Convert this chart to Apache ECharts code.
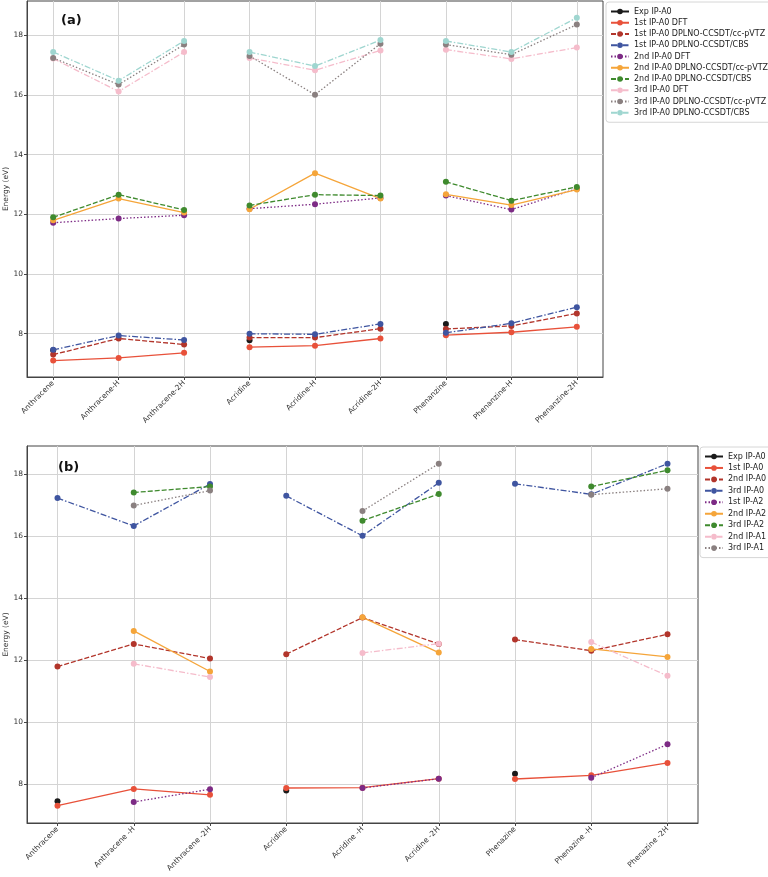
<!DOCTYPE html>
<html>
<head>
<meta charset="utf-8">
<script src="https://cdn.jsdelivr.net/npm/echarts@6/dist/echarts.min.js"></script>
<style>
  html, body { margin: 0; padding: 0; background: #fff; }
  #chart { width: 768px; height: 877px; }
</style>
</head>
<body>
<div id="chart"></div>
<script>
// categories
const categoriesA = ['Anthracene', 'Anthracene-H', 'Anthracene-2H', 'Acridine', 'Acridine-H', 'Acridine-2H', 'Phenanzine', 'Phenanzine-H', 'Phenanzine-2H'];
const categoriesB = ['Anthracene', 'Anthracene -H', 'Anthracene -2H', 'Acridine', 'Acridine -H', 'Acridine -2H', 'Phenazine', 'Phenazine -H', 'Phenazine -2H'];
const yTicks = [8, 10, 12, 14, 16, 18];

// panel (a) values
const aExp = [7.45, null, null, 7.78, null, null, 8.33, null, null];
const a1stDFT = [7.10, 7.19, 7.36, 7.55, 7.60, 7.84, 7.95, 8.05, 8.23];
const a1stTZ = [7.30, 7.84, 7.64, 7.87, 7.87, 8.17, 8.16, 8.26, 8.68];
const a1stCBS = [7.46, 7.94, 7.79, 8.00, 7.98, 8.33, 8.03, 8.35, 8.89];
const a2ndDFT = [11.72, 11.86, 11.97, 12.19, 12.34, 12.55, 12.63, 12.16, 12.86];
const a2ndTZ = [11.80, 12.53, 12.06, 12.17, 13.38, 12.53, 12.67, 12.31, 12.83];
const a2ndCBS = [11.90, 12.66, 12.15, 12.30, 12.66, 12.63, 13.09, 12.46, 12.92];
const a3rdDFT = [17.22, 16.12, 17.44, 17.24, 16.83, 17.49, 17.52, 17.21, 17.59];
const a3rdTZ = [17.24, 16.35, 17.69, 17.31, 16.01, 17.72, 17.69, 17.35, 18.36];
const a3rdCBS = [17.44, 16.48, 17.81, 17.44, 16.97, 17.84, 17.81, 17.44, 18.59];

// panel (b) values
const bExp = [7.44, null, null, 7.79, null, null, 8.33, null, null];
const b1stA0 = [7.30, 7.84, 7.65, 7.87, 7.88, 8.17, 8.16, 8.28, 8.68];
const b2ndA0 = [11.79, 12.52, 12.05, 12.19, 13.37, 12.52, 12.66, 12.30, 12.83];
const b3rdA0 = [17.23, 16.33, 17.68, 17.30, 16.01, 17.72, 17.69, 17.35, 18.34];
const b1stA2 = [null, 7.42, 7.83, null, 7.87, 8.17, null, 8.20, 9.28];
const b2ndA2 = [null, 12.94, 11.63, null, 13.38, 12.24, null, 12.36, 12.10];
const b3rdA2 = [null, 17.41, 17.60, null, 16.50, 17.36, null, 17.60, 18.13];
const b2ndA1 = [null, 11.88, 11.45, null, 12.23, 12.53, null, 12.58, 11.49];
const b3rdA1 = [null, 16.99, 17.47, null, 16.81, 18.34, null, 17.34, 17.53];

// colours / dash styles
const C = {
    black: '#1a1a1a', red: '#e8513a', brown: '#b2352b', blue: '#3f55a0',
    purple: '#7d2b85', orange: '#f5a53a', green: '#3f8a2e', pink: '#f5bccb',
    gray: '#8a8080', cyan: '#9fd6d0'
}
const dashdot = [6, 2, 1.5, 2]

const seriesA = [
    ['Exp IP-A0', aExp, C.black, 'solid'],
    ['1st IP-A0 DFT', a1stDFT, C.red, 'solid'],
    ['1st IP-A0 DPLNO-CCSDT/cc-pVTZ', a1stTZ, C.brown, [5, 2]],
    ['1st IP-A0 DPLNO-CCSDT/CBS', a1stCBS, C.blue, dashdot],
    ['2nd IP-A0 DFT', a2ndDFT, C.purple, [1.5, 2]],
    ['2nd IP-A0 DPLNO-CCSDT/cc-pVTZ', a2ndTZ, C.orange, 'solid'],
    ['2nd IP-A0 DPLNO-CCSDT/CBS', a2ndCBS, C.green, [5, 2]],
    ['3rd IP-A0 DFT', a3rdDFT, C.pink, dashdot],
    ['3rd IP-A0 DPLNO-CCSDT/cc-pVTZ', a3rdTZ, C.gray, [1.5, 2]],
    ['3rd IP-A0 DPLNO-CCSDT/CBS', a3rdCBS, C.cyan, dashdot]
]
const seriesB = [
    ['Exp IP-A0', bExp, C.black, 'solid'],
    ['1st IP-A0', b1stA0, C.red, 'solid'],
    ['2nd IP-A0', b2ndA0, C.brown, [5, 2]],
    ['3rd IP-A0', b3rdA0, C.blue, dashdot],
    ['1st IP-A2', b1stA2, C.purple, [1.5, 2]],
    ['2nd IP-A2', b2ndA2, C.orange, 'solid'],
    ['3rd IP-A2', b3rdA2, C.green, [5, 2]],
    ['2nd IP-A1', b2ndA1, C.pink, dashdot],
    ['3rd IP-A1', b3rdA1, C.gray, [1.5, 2]]
]

const font = 'DejaVu Sans'

// one line per molecule group (3 points), same name -> one legend entry
function buildSeries(defs, axis) {
    const out = []
    defs.forEach(([name, values, color, type]) => {
        for (let g = 0; g < 3; g++) {
            const data = []
            for (let i = g * 3; i < g * 3 + 3; i++) {
                if (values[i] != null) data.push([i, values[i]])
            }
            out.push({
                name, type: 'line', xAxisIndex: axis, yAxisIndex: axis, data,
                symbol: 'circle', symbolSize: 6, animation: false,
                itemStyle: {color},
                lineStyle: {color, width: 1.3, type}
            })
        }
    })
    return out
}

function xAxis(idx, cats) {
    return {
        type: 'value', gridIndex: idx, min: -0.4, max: 8.4,
        axisLine: {show: true, onZero: false, lineStyle: {color: '#444'}},
        axisTick: {show: true, length: 3, customValues: [0, 1, 2, 3, 4, 5, 6, 7, 8], lineStyle: {color: '#444'}},
        axisLabel: {
            customValues: [0, 1, 2, 3, 4, 5, 6, 7, 8], rotate: 45, fontSize: 7.5, color: '#333',
            fontFamily: font, margin: 5, formatter: v => cats[Math.round(v)]
        },
        splitLine: {show: true, lineStyle: {color: '#d4d4d4', width: 1}}
    }
}

function yAxis(idx, min, max) {
    return {
        type: 'value', gridIndex: idx, min, max,
        name: 'Energy (eV)', nameLocation: 'middle', nameGap: 17, nameMoveOverlap: false,
        nameTextStyle: {fontSize: 7.5, color: '#333', fontFamily: font},
        axisLine: {show: true, onZero: false, lineStyle: {color: '#444'}},
        axisTick: {show: true, length: 3, customValues: yTicks, lineStyle: {color: '#444'}},
        axisLabel: {customValues: yTicks, fontSize: 7.5, color: '#333', fontFamily: font, margin: 4},
        splitLine: {show: true, lineStyle: {color: '#d4d4d4', width: 1}}
    }
}

function legend(names, left, top, gap) {
    return {
        data: names, orient: 'vertical', left, top,
        itemWidth: 18, itemHeight: 7, itemGap: gap,
        backgroundColor: '#fff', borderColor: '#d6d6d6', borderWidth: 1, borderRadius: 3,
        padding: [5, 6, 5, 4],
        textStyle: {fontSize: 8, color: '#222', fontFamily: font, lineHeight: 9}
    }
}

const gridBase = {show: true, borderColor: '#444', borderWidth: 1, backgroundColor: 'transparent', containLabel: false, outerBoundsMode: 'none'}

const chart = echarts.init(document.getElementById('chart'))
chart.setOption({
    backgroundColor: '#fff',
    grid: [
        Object.assign({left: 27, top: 1, width: 576, height: 376}, gridBase),
        Object.assign({left: 27, top: 446, width: 671, height: 377}, gridBase)
    ],
    xAxis: [xAxis(0, categoriesA), xAxis(1, categoriesB)],
    yAxis: [yAxis(0, 6.55, 19.15), yAxis(1, 6.74, 18.91)],
    legend: [
        legend(seriesA.map(s => s[0]), 606, 2, 2.25),
        legend(seriesB.map(s => s[0]), 700, 447, 2.45)
    ],
    graphic: [
        {type: 'text', left: 61, top: 14, style: {text: '(a)', fontSize: 13, fontWeight: 'bold', fontFamily: font, fill: '#111'}},
        {type: 'text', left: 58, top: 461, style: {text: '(b)', fontSize: 13, fontWeight: 'bold', fontFamily: font, fill: '#111'}}
    ],
    series: [...buildSeries(seriesA, 0), ...buildSeries(seriesB, 1)]
})
</script>
</body>
</html>
